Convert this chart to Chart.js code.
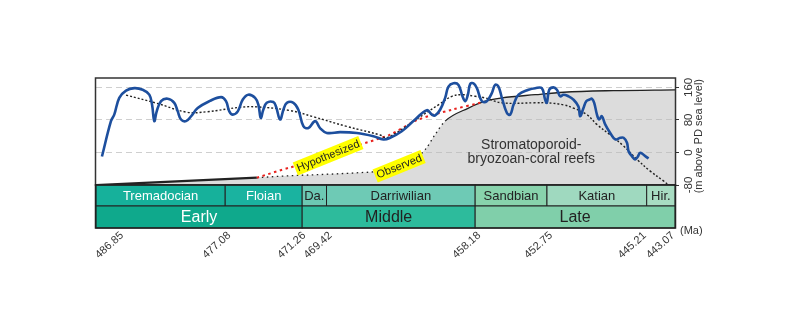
<!DOCTYPE html>
<html>
<head>
<meta charset="utf-8">
<script src="https://cdn.jsdelivr.net/npm/chart.js@4.4.1/dist/chart.umd.min.js"></script>
<style>
  html, body { margin: 0; padding: 0; background: #fff; }
  #wrap { width: 800px; height: 324px; }
</style>
</head>
<body>
<div id="wrap"><canvas id="chart" width="800" height="324"></canvas></div>
<script>
// sea-level curve (blue)
const blueAge = [486.40,485.72,485.47,485.09,484.58,483.95,483.32,482.82,482.61,482.44,
  482.26,481.93,481.43,480.93,480.67,480.42,480.04,479.66,479.16,478.28,
  477.39,477.02,476.77,476.51,476.13,475.75,475.33,474.82,474.57,474.39,
  474.20,473.94,473.44,473.24,472.93,472.68,472.42,471.92,471.55,471.17,
  470.79,470.28,469.91,469.40,468.39,467.13,465.87,465.12,464.61,463.73,
  462.72,461.83,461.45,461.20,460.83,460.45,460.20,459.82,459.44,459.14,
  458.93,458.73,458.56,458.31,458.05,457.67,457.30,456.92,456.67,456.42,
  456.16,455.78,455.53,455.28,454.90,454.15,453.64,453.14,452.89,452.76,
  452.58,452.26,452.00,451.75,451.50,451.12,450.75,450.37,450.24,449.99,
  449.78,449.53,449.35,449.18,448.97,448.80,448.60,448.35,447.97,447.59,
  447.21,446.96,446.70,446.58,446.33,446.08,445.90,445.70,445.32,445.07];
const blueLevel = [-10,77,93,134,152,158,154,142,117,77,
  101,126,132,122,101,81,77,89,109,126,
  136,126,101,93,101,130,142,134,117,85,
  105,122,124,113,81,105,122,122,105,65,
  60,77,60,48,50,48,40,32,36,52,
  81,104,93,91,105,134,162,170,166,138,
  126,142,168,170,158,126,126,146,166,162,
  134,97,93,117,142,154,158,158,130,122,
  154,160,154,138,142,138,130,113,89,109,
  126,130,132,122,93,81,89,69,48,32,
  36,36,24,3,-9,-17,-11,-1,-9,-15];

// long-term trend (black dotted)
const trendAge = [484.58,482.26,479.99,478.48,475.96,474.69,472.18,470.44,467.89,465.37,
  464.86,462.47,460.96,459.94,459.19,458.18,457.43,456.16,453.64,452.76,
  451.50,450.75,449.73,448.98,447.97,446.96,445.95,444.94,443.94,443.56];
const trendLevel = [141,121,99,100,111,112,103,88,64,43,
  36,85,117,138,142,138,134,122,122,122,
  117,109,93,69,43,16,-17,-46,-70,-80];

// hypothesized reef curve (red dotted)
const hypoAge = [474.69,472.18,469.66,467.13,464.61,462.47,459.94,457.80];
const hypoLevel = [-62,-37,-17,16,44,81,105,122];

// observed reef curve (grey area)
const reefAge = [486.85,474.69,472.68,469.66,467.13,465.37,463.48,461.96,461.21,460.45,
  458.69,457.43,456.16,453.64,451.50,447.72,443.07];
const reefLevel = [-80,-62,-58,-54,-50,-46,-33,7,44,77,
  109,126,134,142,148,152,154];
const observedUntil = 460.45;

// time scale
const stageNames = ['Tremadocian','Floian','Da.','Darriwilian','Sandbian','Katian','Hir.'];
const seriesNames = ['Early','Middle','Late'];
const boundaryAges = [486.85,477.08,471.26,469.42,458.18,452.75,445.21,443.07];
const stageIdx = [0,1,2,3,4,5,6];
const seriesIdx = [0,2,4];
const yTicks = [-80,0,80,160];

const noteText = ['Hypothesized','Observed'];
const noteAge = [469.3,463.93];
const noteLevel = [-8,-34];

// Farben
const stageColors = ['#16b19b','#1ab3a0','#6cc8b3','#6ecab5','#88d3ac','#9fd9bf','#a8dcc2'];
const stageText = ['#fff','#fff','#222','#222','#222','#222','#222'];
const seriesColors = ['#0fa98c','#2dbb9c','#80cfaa'];
const seriesText = ['#fff','#222','#222'];
const labelNudge = [26,4,2,4,4,4,-2,-2];

const pts = (xs, ys) => xs.map((x, i) => ({ x: x, y: ys[i] }));

const stratPlugin = {
  id: 'strat',
  afterDatasetsDraw(chart) {
    const ctx = chart.ctx;
    const xs = chart.scales.x;
    const ys = chart.scales.y;
    const a = chart.chartArea;
    const font = 'Liberation Sans, Arial, sans-serif';
    ctx.save();

    // Hypothesized / Observed labels
    ctx.font = '11px ' + font;
    noteText.forEach((t, i) => {
      const px = xs.getPixelForValue(noteAge[i]);
      const py = ys.getPixelForValue(noteLevel[i]);
      ctx.save();
      ctx.translate(px, py);
      ctx.rotate(-22 * Math.PI / 180);
      const w = ctx.measureText(t).width + 4;
      ctx.fillStyle = '#ffff00';
      ctx.fillRect(-w / 2, -7, w, 14);
      ctx.fillStyle = '#222';
      ctx.textAlign = 'center';
      ctx.textBaseline = 'middle';
      ctx.fillText(t, 0, 0.5);
      ctx.restore();
    });

    // reef text
    ctx.font = '14px ' + font;
    ctx.fillStyle = '#333';
    ctx.textAlign = 'center';
    ctx.textBaseline = 'middle';
    const rx = xs.getPixelForValue(453.94);
    ctx.fillText('Stromatoporoid-', rx, ys.getPixelForValue(19));
    ctx.fillText('bryozoan-coral reefs', rx, ys.getPixelForValue(-16));

    // frame
    ctx.strokeStyle = '#333';
    ctx.lineWidth = 1.5;
    ctx.strokeRect(a.left - 0.5, a.top, a.right - a.left + 1, a.bottom - a.top);

    // stage + series bars
    const rows = [
      { names: stageNames, idx: stageIdx, fill: stageColors, txt: stageText, top: a.bottom, h: 21, size: 13 },
      { names: seriesNames, idx: seriesIdx, fill: seriesColors, txt: seriesText, top: a.bottom + 21, h: 22, size: 16 }
    ];
    rows.forEach(r => {
      r.names.forEach((n, i) => {
        const x0 = xs.getPixelForValue(boundaryAges[r.idx[i]]);
        const endIdx = i + 1 < r.idx.length ? r.idx[i + 1] : boundaryAges.length - 1;
        const x1 = xs.getPixelForValue(boundaryAges[endIdx]);
        ctx.fillStyle = r.fill[i];
        ctx.fillRect(x0, r.top, x1 - x0, r.h);
        ctx.strokeStyle = '#222';
        ctx.lineWidth = 1;
        ctx.strokeRect(x0, r.top, x1 - x0, r.h);
        ctx.fillStyle = r.txt[i];
        ctx.font = r.size + 'px ' + font;
        ctx.fillText(n, (x0 + x1) / 2, r.top + r.h / 2 + 1);
      });
    });
    ctx.lineWidth = 1.5;
    ctx.strokeStyle = '#222';
    ctx.strokeRect(a.left - 0.5, a.bottom, a.right - a.left + 1, 43);

    // age labels
    ctx.font = '11px ' + font;
    ctx.fillStyle = '#333';
    ctx.textAlign = 'right';
    ctx.textBaseline = 'middle';
    boundaryAges.forEach((v, i) => {
      const px = xs.getPixelForValue(v) + labelNudge[i];
      ctx.save();
      ctx.translate(px, a.bottom + 49);
      ctx.rotate(-42 * Math.PI / 180);
      ctx.fillText(v.toFixed(2), 0, 0);
      ctx.restore();
    });
    ctx.textAlign = 'left';
    ctx.fillText('(Ma)', a.right + 5, a.bottom + 46);

    // y title
    ctx.save();
    ctx.translate(a.right + 24, ys.getPixelForValue(40));
    ctx.rotate(-Math.PI / 2);
    ctx.textAlign = 'center';
    ctx.fillText('(m above PD sea level)', 0, 0);
    ctx.restore();

    ctx.restore();
  }
};

new Chart(document.getElementById('chart'), {
  type: 'line',
  data: {
    datasets: [
      {
        label: 'Sea level',
        data: pts(blueAge, blueLevel),
        borderColor: '#1d4f9e',
        borderWidth: 2.6,
        tension: 0.4,
        pointRadius: 0,
        fill: false
      },
      {
        label: 'Trend',
        data: pts(trendAge, trendLevel),
        borderColor: '#222',
        borderWidth: 1.4,
        borderDash: [2, 2],
        tension: 0.4,
        pointRadius: 0,
        fill: false
      },
      {
        label: 'Hypothesized',
        data: pts(hypoAge, hypoLevel),
        borderColor: '#e8231f',
        borderWidth: 2,
        borderDash: [2.5, 3.5],
        tension: 0.3,
        pointRadius: 0,
        fill: false
      },
      {
        label: 'Reefs',
        data: pts(reefAge, reefLevel),
        borderColor: '#222',
        borderWidth: 1.3,
        cubicInterpolationMode: 'monotone',
        pointRadius: 0,
        fill: false,
        segment: {
          borderDash: c => (c.p0DataIndex === 0 || c.p0.parsed.x <= observedUntil) ? [] : [1.5, 3.5],
          borderWidth: c => c.p0DataIndex === 0 ? 2.2 : 1.3
        }
      },
      {
        label: 'Reef area',
        data: pts(reefAge, reefLevel),
        borderWidth: 0,
        borderColor: 'rgba(0,0,0,0)',
        cubicInterpolationMode: 'monotone',
        pointRadius: 0,
        fill: 'start',
        backgroundColor: 'rgba(185,185,185,0.5)'
      }
    ]
  },
  options: {
    responsive: false,
    animation: false,
    layout: { padding: { left: 96, top: 78, bottom: 139, right: 103 } },
    plugins: { legend: { display: false }, tooltip: { enabled: false } },
    scales: {
      x: {
        type: 'linear',
        reverse: true,
        min: 443.07,
        max: 486.85,
        display: false
      },
      y: {
        position: 'right',
        min: -80,
        max: 183,
        afterBuildTicks: s => { s.ticks = yTicks.map(v => ({ value: v })); },
        afterFit: s => { s.width = 22; },
        grid: { color: '#cfcfcf', tickColor: '#333', tickLength: 4, tickBorderDash: [] },
        border: { display: false, dash: [6, 4] },
        ticks: {
          minRotation: 90,
          maxRotation: 90,
          crossAlign: 'center',
          padding: 0,
          color: '#333',
          font: { family: 'Liberation Sans, Arial, sans-serif', size: 11.5 }
        }
      }
    }
  },
  plugins: [stratPlugin]
});
</script>
</body>
</html>
